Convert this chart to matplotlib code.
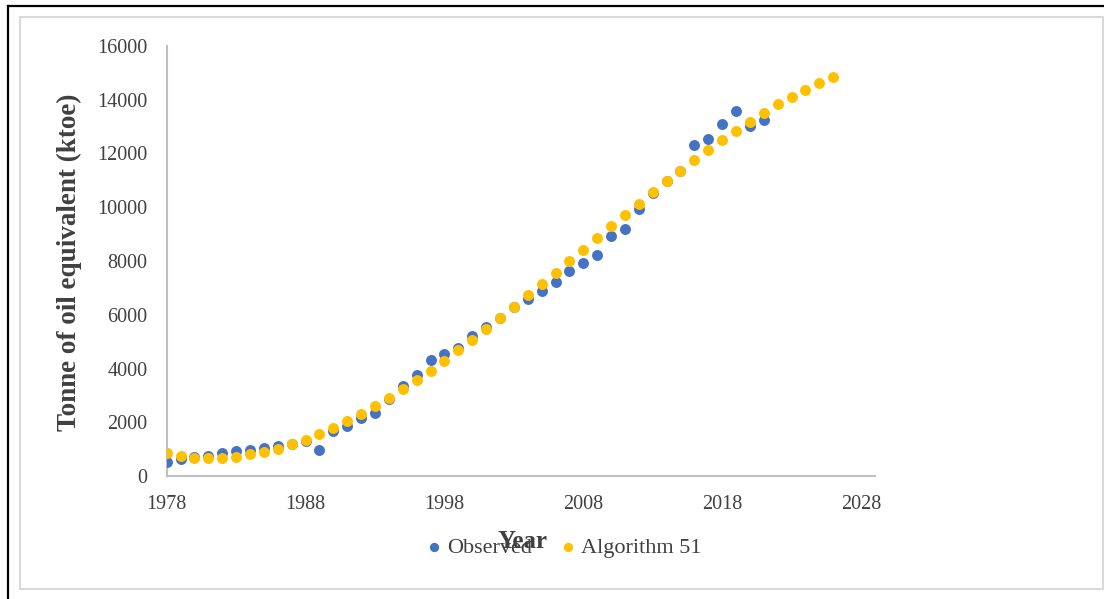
import matplotlib
matplotlib.use("Agg")
import matplotlib.pyplot as plt
from matplotlib.lines import Line2D
from matplotlib.patches import Rectangle

# ---- data ----
obs_years = list(range(1978, 2022))
obs_values = [530, 620, 690, 730, 860, 920, 980, 1050, 1120, 1200, 1320, 960,
              1670, 1860, 2150, 2360, 2860, 3350, 3750, 4330, 4530, 4780,
              5220, 5560, 5870, 6290, 6580, 6880, 7220, 7640, 7930, 8230,
              8930, 9180, 9950, 10520, 10980, 11350, 12330, 12550, 13110,
              13580, 13030, 13250]
alg_years = list(range(1978, 2027))
alg_values = [840, 745, 685, 660, 685, 710, 805, 895, 1015, 1180, 1340, 1575,
              1800, 2050, 2320, 2595, 2900, 3230, 3570, 3920, 4290, 4680,
              5070, 5460, 5870, 6290, 6720, 7130, 7570, 8000, 8420, 8860,
              9290, 9710, 10130, 10560, 10980, 11350, 11750, 12130, 12490,
              12840, 13180, 13510, 13830, 14110, 14380, 14620, 14860]
x_ticks = [1978, 1988, 1998, 2008, 2018, 2028]
y_ticks = [0, 2000, 4000, 6000, 8000, 10000, 12000, 14000, 16000]

plt.rcParams['font.family'] = ['Liberation Serif', 'DejaVu Serif']

W, H = 1104, 599
fig = plt.figure(figsize=(W / 100, H / 100), dpi=100)
fig.patch.set_facecolor('white')

# frames
fig.add_artist(Rectangle((20 / W, 1 - 589 / H), (1103 - 20) / W, (589 - 17) / H,
                         transform=fig.transFigure, fill=False,
                         edgecolor='#D9D9D9', linewidth=1.5))
fig.add_artist(Line2D([7.5 / W, 7.5 / W], [0, 1 - 5.5 / H], transform=fig.transFigure,
                      color='black', linewidth=1.6))
fig.add_artist(Line2D([7.5 / W, 1103 / W], [1 - 5.5 / H, 1 - 5.5 / H],
                      transform=fig.transFigure, color='black', linewidth=1.6))

left_px, right_px, top_px, bot_px = 166.7, 875, 46, 476
ax = fig.add_axes([left_px / W, 1 - bot_px / H, (right_px - left_px) / W, (bot_px - top_px) / H])

ax.scatter(obs_years, obs_values, s=62, color='#4472C4', label='Observed', zorder=3,
           linewidths=0)
ax.scatter(alg_years, alg_values, s=62, color='#FFC000', label='Algorithm 51', zorder=4,
           linewidths=0)

ax.set_xlim(1978, 1978 + (right_px - left_px) / ((861 - 166.7) / 50))
ax.set_ylim(0, 16000)
ax.set_xticks(x_ticks)
ax.set_yticks(y_ticks)
ax.tick_params(length=0, labelsize=14.5, labelcolor='#404040')
ax.tick_params(axis='x', pad=14)
ax.tick_params(axis='y', pad=14)
for s in ['top', 'right']:
    ax.spines[s].set_visible(False)
for s in ['left', 'bottom']:
    ax.spines[s].set_color('#BFBFBF')
    ax.spines[s].set_linewidth(1.5)

fig.text(69 / W, 1 - 262 / H, 'Tonne of oil equivalent (ktoe)', rotation=90,
         ha='center', va='center', fontsize=19.5, fontweight='bold', color='#404040')

leg = fig.legend(loc='center', bbox_to_anchor=(562 / W, 1 - 548 / H), ncol=2,
                 frameon=False, fontsize=16, markerscale=0.85, handletextpad=0.1,
                 columnspacing=1.1, handlelength=1.0)
for t in leg.get_texts():
    t.set_color('#404040')

fig.text(522 / W, 1 - 541 / H, 'Year', ha='center', va='center', fontsize=18,
         fontweight='bold', color='#404040', zorder=10)

fig.savefig('out.png', dpi=100)
